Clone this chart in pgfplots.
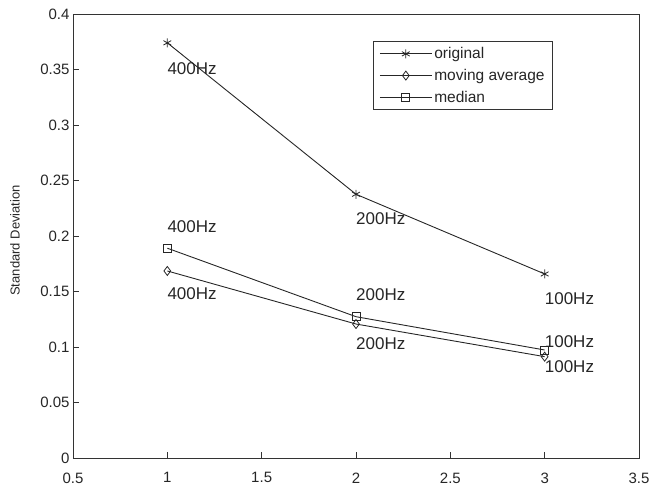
\documentclass[border=0pt]{standalone}
\usepackage{fontspec}
\setmainfont{Liberation Sans}
\usepackage{pgfplots}
\pgfplotsset{compat=1.18}
\begin{document}
\begin{tikzpicture}
\useasboundingbox (-73pt,-28pt) rectangle (577pt,458pt);
\begin{axis}[
  at={(0pt,0pt)}, anchor=south west,
  scale only axis, width=566pt, height=444pt,
  xmin=0.5, xmax=3.5, ymin=0, ymax=0.4,
  xtick={0.5,1,1.5,2,2.5,3,3.5},
  xticklabels={0.5,1,1.5,2,2.5,3,3.5},
  ytick={0,0.05,0.1,0.15,0.2,0.25,0.3,0.35,0.4},
  yticklabels={0,0.05,0.1,0.15,0.2,0.25,0.3,0.35,0.4},
  xtick pos=bottom, ytick pos=left,
  tick align=inside, major tick length=6pt,
  tick style={black!80, line width=0.8pt},
  axis line style={black!80, line width=0.9pt},
  tick label style={font=\fontsize{15}{15}\selectfont, text=black!85},
  xticklabel style={yshift=-11pt},
  ylabel={Standard Deviation},
  ylabel style={font=\fontsize{13}{13}\selectfont, text=black!85, at={(axis description cs:-0.1025,0.49)}, anchor=center},
  legend style={at={(0.530,0.939)}, anchor=north west, draw=black!80, line width=0.8pt,
     font=\fontsize{15.5}{15.5}\selectfont, text=black!85, inner xsep=6pt, inner ysep=4pt,
     row sep=5pt, /tikz/every even column/.append style={column sep=4pt}},
  legend cell align=left,
  legend image code/.code={\draw[mark repeat=2,mark phase=2] plot coordinates {(0pt,0pt) (26pt,0pt) (52pt,0pt)};},
  every axis plot/.append style={black!85, line width=0.9pt, mark options={solid, line width=0.8pt}},
]
\addplot[mark=asterisk, mark size=4.5pt] coordinates {(1,0.374) (2,0.2376) (3,0.1658)};
\addlegendentry{original}
\addplot[mark=diamond, mark size=4.5pt] coordinates {(1,0.1685) (2,0.1207) (3,0.0913)};
\addlegendentry{moving average}
\addplot[mark=square, mark size=4pt] coordinates {(1,0.189) (2,0.1273) (3,0.0973)};
\addlegendentry{median}
\begin{scope}[every node/.style={anchor=west, inner sep=0pt, font=\fontsize{17}{17}\selectfont, text=black!85}]
\node at (axis cs:1,0.351) {400Hz};
\node at (axis cs:2,0.216) {200Hz};
\node at (axis cs:3,0.144) {100Hz};
\node at (axis cs:1,0.208) {400Hz};
\node at (axis cs:1,0.148) {400Hz};
\node at (axis cs:2,0.147) {200Hz};
\node at (axis cs:2,0.103) {200Hz};
\node at (axis cs:3,0.1045) {100Hz};
\node at (axis cs:3,0.082) {100Hz};
\end{scope}
\end{axis}
\end{tikzpicture}
\end{document}
